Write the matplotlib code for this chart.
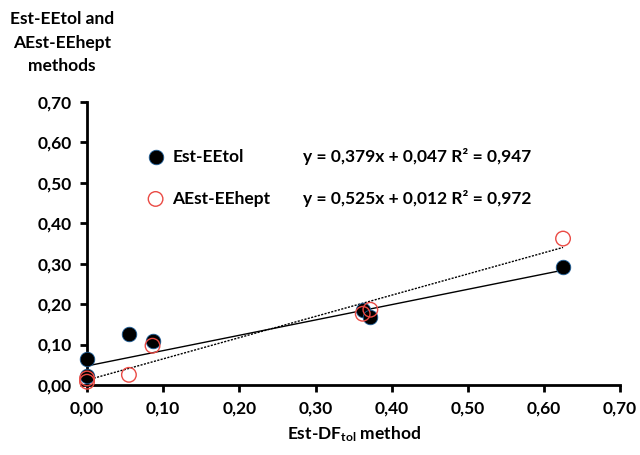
import matplotlib
matplotlib.use("Agg")
import matplotlib.pyplot as plt
import numpy as np

plt.rcParams['font.family'] = ['Lato', 'DejaVu Sans']
plt.rcParams['font.weight'] = 'bold'
plt.rcParams['mathtext.fontset'] = 'custom'
plt.rcParams['mathtext.rm'] = 'Lato:bold'
plt.rcParams['mathtext.it'] = 'Lato:bold'
plt.rcParams['mathtext.bf'] = 'Lato:bold'

# Data
tol_x = [0.0, 0.0, 0.055, 0.086, 0.362, 0.372, 0.625]
tol_y = [0.063, 0.022, 0.126, 0.108, 0.185, 0.168, 0.291]
hept_x = [0.0, 0.0, 0.055, 0.086, 0.362, 0.372, 0.625]
hept_y = [0.016, 0.008, 0.025, 0.097, 0.176, 0.186, 0.362]
series_names = ["Est-EEtol", "AEst-EEhept"]
equations = ["y = 0,379x + 0,047 R² = 0,947", "y = 0,525x + 0,012 R² = 0,972"]
slopes = [0.379, 0.525]
intercepts = [0.047, 0.012]
ticks = [0.0, 0.1, 0.2, 0.3, 0.4, 0.5, 0.6, 0.7]
tick_labels = ["0,00", "0,10", "0,20", "0,30", "0,40", "0,50", "0,60", "0,70"]

fig = plt.figure(figsize=(6.4, 4.55), dpi=100)
ax = fig.add_axes([0.136, 0.154, 0.833, 0.622])

blk = dict(s=110, facecolor='black', edgecolor='#1f5f99', linewidths=0.6, clip_on=False)
red = dict(s=110, facecolor='none', edgecolor='#ea4a44', linewidths=1.0, clip_on=False)

ax.scatter(tol_x, tol_y, zorder=3, **blk)
ax.scatter(hept_x, hept_y, zorder=4, **red)

xl = np.array([0.0, 0.625])
ax.plot(xl, slopes[0] * xl + intercepts[0], color='black', lw=1.0, zorder=2)
ax.plot(xl, slopes[1] * xl + intercepts[1], color='black', lw=1.0, ls=(0, (1.5, 1)), zorder=2)

ax.set_xlim(0, 0.7)
ax.set_ylim(0, 0.7)
ax.set_xticks(ticks)
ax.set_xticklabels(tick_labels)
ax.set_yticks(ticks)
ax.set_yticklabels(tick_labels)
for s in ['top', 'right']:
    ax.spines[s].set_visible(False)
for s in ['left', 'bottom']:
    ax.spines[s].set_linewidth(2)
ax.tick_params(direction='out', length=5, width=2, labelsize=12.5, pad=6)
ax.set_xlabel("Est-DF$_{tol}$ method", fontsize=12.5, fontweight='bold', labelpad=6)

fig.text(0.097, 0.975, "Est-EEtol and\nAEst-EEhept\nmethods", ha='center', va='top',
         fontsize=12.5, fontweight='bold', linespacing=1.55)

# Legend entries
ax.scatter([0.09], [0.565], zorder=3, **blk)
ax.text(0.112, 0.565, series_names[0], va='center', fontsize=12.5, fontweight='bold')
ax.text(0.283, 0.565, equations[0], va='center', fontsize=12.5, fontweight='bold')
ax.scatter([0.09], [0.46], zorder=3, **red)
ax.text(0.112, 0.46, series_names[1], va='center', fontsize=12.5, fontweight='bold')
ax.text(0.283, 0.46, equations[1], va='center', fontsize=12.5, fontweight='bold')

fig.savefig("out.png", dpi=100)
